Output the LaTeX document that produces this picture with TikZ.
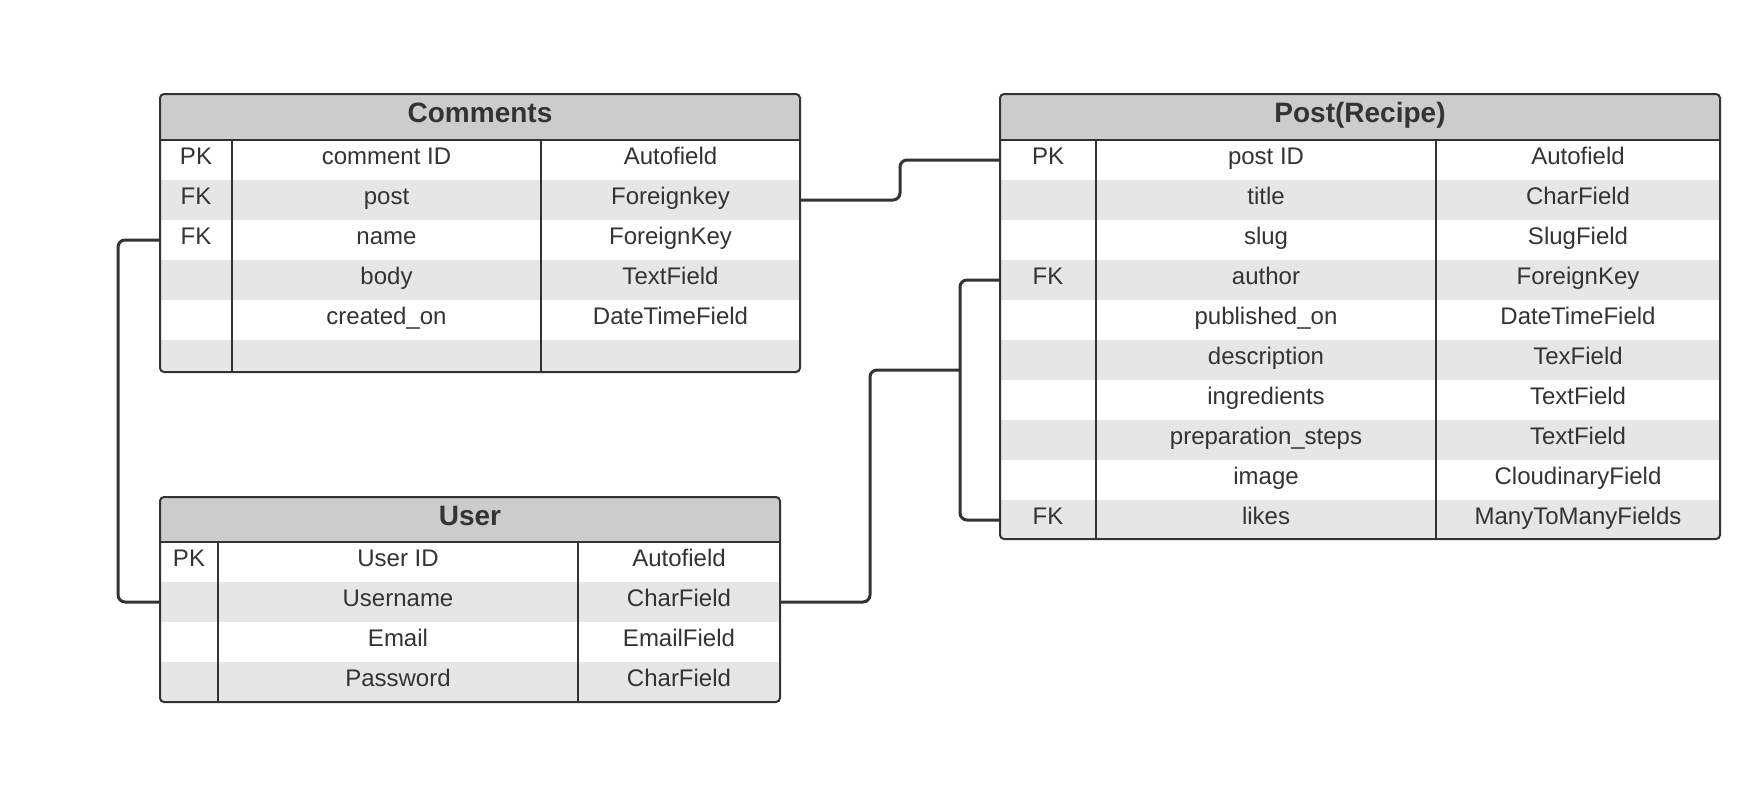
\documentclass[tikz,border=0pt]{standalone}
\usepackage{fontspec}
\setmainfont{Liberation Sans}
\definecolor{ink}{HTML}{333333}
\definecolor{hdr}{HTML}{CCCCCC}
\definecolor{stripe}{HTML}{E6E6E6}
\tikzset{
  cell/.style={inner sep=0pt, text height=14pt, text depth=5pt, font=\fontsize{24}{28}\selectfont, text=ink},
  ttl/.style={inner sep=0pt, text height=17pt, text depth=6pt, font=\bfseries\fontsize{28}{32}\selectfont, text=ink},
  rowbox/.style={inner sep=0pt, outer sep=0pt, draw=none, anchor=north west},
  frame/.style={draw=ink, line width=2pt, rounded corners=4pt},
  divider/.style={draw=ink, line width=2pt},
  link/.style={draw=ink, line width=3pt, rounded corners=7pt},
}
\begin{document}
\begin{tikzpicture}[x=1pt,y=-1pt]
\fill[white] (0,0) rectangle (1760,790);
\useasboundingbox (0,0) rectangle (1760,790);

% ---------------- Comments ----------------
\begin{scope}
\clip[rounded corners=4pt] (160,94) rectangle (800,372);
\node[rowbox, minimum width=640pt, minimum height=46pt, fill=hdr] (cT) at (160,94) {};
\foreach \i/\f/\k/\n/\t in {1/white/PK/comment ID/Autofield,
                            2/stripe/FK/post/Foreignkey,
                            3/white/FK/name/ForeignKey,
                            4/stripe//body/TextField,
                            5/white//created\_on/DateTimeField}{
  \node[rowbox, minimum width=640pt, minimum height=40pt, fill=\f] (c\i) at (160,{140+40*(\i-1)}) {};
  \node[cell] (c\i a) at (196,{160+40*(\i-1)}) {\k};
  \node[cell] (c\i b) at (386.5,{160+40*(\i-1)}) {\n};
  \node[cell] (c\i c) at (670.5,{160+40*(\i-1)}) {\t};
}
\node[rowbox, minimum width=640pt, minimum height=32pt, fill=stripe] (c6) at (160,340) {};
\end{scope}
\node[ttl] (cTt) at (cT.center) {Comments};
\draw[divider] (cT.south west) -- (cT.south east);
\draw[divider] (232,140) -- (232,372);
\draw[divider] (541,140) -- (541,372);
\draw[frame] (160,94) rectangle (800,372);

% ---------------- Post(Recipe) ----------------
\begin{scope}
\clip[rounded corners=4pt] (1000,94) rectangle (1720,539);
\node[rowbox, minimum width=720pt, minimum height=46pt, fill=hdr] (pT) at (1000,94) {};
\foreach \i/\f/\k/\n/\t in {1/white/PK/post ID/Autofield,
                            2/stripe//title/CharField,
                            3/white//slug/SlugField,
                            4/stripe/FK/author/ForeignKey,
                            5/white//published\_on/DateTimeField,
                            6/stripe//description/TexField,
                            7/white//ingredients/TextField,
                            8/stripe//preparation\_steps/TextField,
                            9/white//image/CloudinaryField,
                            10/stripe/FK/likes/ManyToManyFields}{
  \node[rowbox, minimum width=720pt, minimum height=40pt, fill=\f] (p\i) at (1000,{140+40*(\i-1)}) {};
  \node[cell] (p\i a) at (1048,{160+40*(\i-1)}) {\k};
  \node[cell] (p\i b) at (1266,{160+40*(\i-1)}) {\n};
  \node[cell] (p\i c) at (1578,{160+40*(\i-1)}) {\t};
}
\end{scope}
\node[ttl] (pTt) at (pT.center) {Post(Recipe)};
\draw[divider] (pT.south west) -- (pT.south east);
\draw[divider] (1096,140) -- (1096,539);
\draw[divider] (1436,140) -- (1436,539);
\draw[frame] (1000,94) rectangle (1720,539);

% ---------------- User ----------------
\begin{scope}
\clip[rounded corners=4pt] (160,497) rectangle (780,702);
\node[rowbox, minimum width=620pt, minimum height=45pt, fill=hdr] (uT) at (160,497) {};
\foreach \i/\f/\k/\n/\t in {1/white/PK/User ID/Autofield,
                            2/stripe//Username/CharField,
                            3/white//Email/EmailField,
                            4/stripe//Password/CharField}{
  \node[rowbox, minimum width=620pt, minimum height=40pt, fill=\f] (u\i) at (160,{542+40*(\i-1)}) {};
  \node[cell] (u\i a) at (189,{562+40*(\i-1)}) {\k};
  \node[cell] (u\i b) at (398,{562+40*(\i-1)}) {\n};
  \node[cell] (u\i c) at (679,{562+40*(\i-1)}) {\t};
}
\end{scope}
\node[ttl] (uTt) at (uT.center) {User};
\draw[divider] (uT.south west) -- (uT.south east);
\draw[divider] (218,542) -- (218,702);
\draw[divider] (578,542) -- (578,702);
\draw[frame] (160,497) rectangle (780,702);

% ---------------- Connectors ----------------
\coordinate (jn) at (960,370);
\draw[link] (c2.east) -- ++(100,0) |- (p1.west);
\draw[link] (c3.west) -- ++(-42,0) |- (u2.west);
\draw[link] (p4.west) -- ++(-40,0) |- (p10.west);
\draw[link] (u2.east) -- ++(90,0) |- (jn);
\end{tikzpicture}
\end{document}
